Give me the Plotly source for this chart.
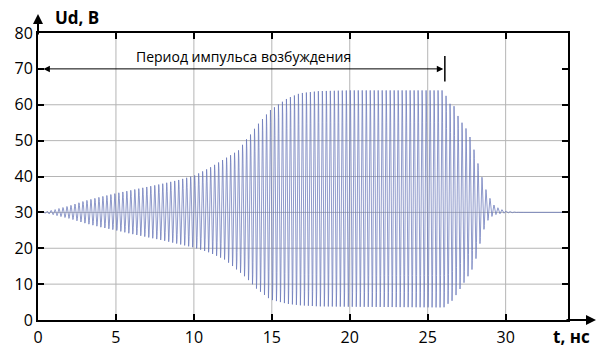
import numpy as np
import plotly.graph_objects as go

# Envelope of the excitation voltage (ns, V): upper and lower peaks
t_env = [0, 0.5, 1, 2, 3, 4, 5, 6, 7, 8, 9, 10, 11, 12, 12.9, 13.3, 13.6, 14, 14.9, 16, 16.8, 18, 20, 26,
         26.1, 26.3, 26.6, 26.9, 27.2, 27.6, 27.9, 28.2, 28.5, 28.8, 29.2, 29.6, 30.0, 30.5, 31, 34]
u_upper = [30, 30.3, 30.7, 31.8, 33.2, 34.3, 35.3, 36.2, 37.1, 38.0, 39.0, 40.2, 42.4, 45.0, 47.4, 50.0, 51.5, 54.0, 58.5, 61.8, 63.2, 63.8, 64.0, 64.0,
           64.0, 60.0, 60.6, 57.2, 55.0, 52.5, 48.5, 44.0, 39.5, 35.5, 32.2, 31.0, 30.4, 30.15, 30, 30]
u_lower = [30, 29.7, 29.3, 28.3, 27.0, 25.9, 25.0, 24.0, 23.1, 22.2, 21.2, 20.2, 18.8, 16.8, 13.5, 12.0, 10.7, 8.8, 5.7, 4.5, 4.1, 3.8, 3.7, 3.5,
           3.6, 4.5, 5.5, 7.5, 9.5, 12.3, 14.5, 18.5, 24.0, 27.5, 29.2, 29.6, 29.8, 29.9, 30, 30]
carrier_period = 0.256  # ns

x_ticks = [0, 5, 10, 15, 20, 25, 30]
y_ticks = [0, 10, 20, 30, 40, 50, 60, 70, 80]
pulse_label = "Период импульса возбуждения"
pulse_end = 26.0

t = np.arange(0, 34, carrier_period / 24)
up = np.interp(t, t_env, u_upper)
lo = np.interp(t, t_env, u_lower)
ud = (up + lo) / 2 + (up - lo) / 2 * np.sin(2 * np.pi * t / carrier_period)

fig = go.Figure()
fig.add_trace(go.Scatter(x=t, y=ud, mode="lines",
                         line=dict(color="rgba(105,120,185,0.75)", width=1),
                         hoverinfo="skip", showlegend=False))

grid = dict(color="#b5b5b5", width=1)
shapes = []
for xv in x_ticks[1:]:
    shapes.append(dict(type="line", xref="x", yref="y", x0=xv, x1=xv, y0=0, y1=80, line=grid, layer="below"))
for yv in y_ticks[1:7]:
    shapes.append(dict(type="line", xref="x", yref="y", x0=0, x1=34, y0=yv, y1=yv, line=grid, layer="below"))
# end marker of the excitation pulse
shapes.append(dict(type="line", xref="x", yref="y", x0=pulse_end + 0.1, x1=pulse_end + 0.1, y0=66.5, y1=73.6,
                   line=dict(color="black", width=1.5)))

font = "Open Sans, Noto Sans, sans-serif"
annotations = [
    # axis arrows
    dict(xref="paper", yref="paper", x=1.0547, y=0, ax=-32, ay=0, text="", showarrow=True,
         arrowhead=2, arrowsize=1.0, arrowwidth=2, arrowcolor="black"),
    dict(xref="paper", yref="paper", x=0, y=1.066, ax=0, ay=22, text="", showarrow=True,
         arrowhead=2, arrowsize=1.0, arrowwidth=2, arrowcolor="black"),
    dict(xref="paper", yref="paper", x=0.028, y=1.053, xanchor="left", yanchor="middle",
         text="<b>Ud, B</b>", showarrow=False, font=dict(family=font, size=17, color="black")),
    dict(xref="paper", yref="paper", x=0.968, y=-0.058, xanchor="left", yanchor="middle",
         text="<b>t, нс</b>", showarrow=False, font=dict(family=font, size=17, color="black")),
    # pulse duration arrow
    dict(xref="x", yref="y", axref="x", ayref="y", x=pulse_end, y=70, ax=0.25, ay=70, text="",
         showarrow=True, arrowside="end+start", arrowhead=2, arrowsize=1.3, arrowwidth=1, arrowcolor="black"),
    dict(xref="x", yref="y", x=13.2, y=73.4, text=pulse_label, showarrow=False,
         font=dict(family=font, size=14, color="black")),
]

axis_common = dict(showline=True, linecolor="black", linewidth=2, mirror="ticks",
                   ticks="inside", ticklen=6, tickwidth=2, tickcolor="black",
                   showgrid=False, zeroline=False, automargin=False,
                   tickfont=dict(family=font, size=16, color="black"))

fig.update_layout(
    width=597, height=347,
    margin=dict(l=38, r=29, t=33, b=27),
    paper_bgcolor="white", plot_bgcolor="white",
    xaxis=dict(range=[0, 34], tickvals=x_ticks, ticklabelstandoff=2, **axis_common),
    yaxis=dict(range=[0, 80], tickvals=y_ticks, **axis_common),
    shapes=shapes, annotations=annotations,
)

fig.write_html("out.html")
